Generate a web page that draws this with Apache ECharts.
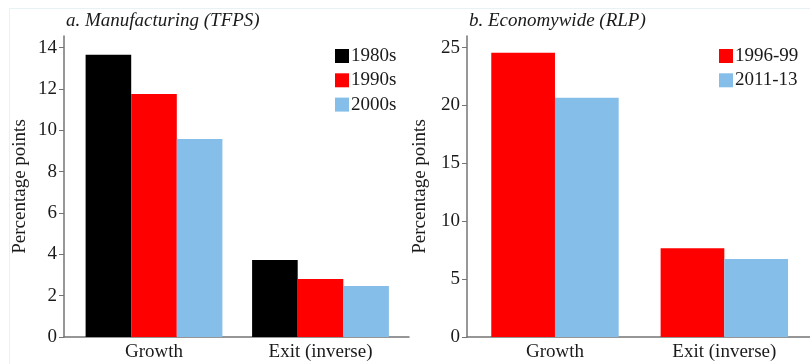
<!DOCTYPE html>
<html>
<head>
<meta charset="utf-8">
<script src="https://cdn.jsdelivr.net/npm/echarts@6/dist/echarts.min.js"></script>
<style>
  html, body { margin: 0; padding: 0; background: #fff; }
  #chart { width: 810px; height: 364px; }
</style>
</head>
<body>
<div id="chart"></div>
<script>
// Categories shared by both panels
const categories = ['Growth', 'Exit (inverse)'];

// Panel a: manufacturing (TFPS), percentage points
const mfgNames = ['1980s', '1990s', '2000s'];
const mfg1980s = [13.65, 3.72];
const mfg1990s = [11.75, 2.80];
const mfg2000s = [9.58, 2.47];
const mfgTicks = [0, 2, 4, 6, 8, 10, 12, 14];

// Panel b: economywide (RLP), percentage points
const ecoNames = ['1996-99', '2011-13'];
const eco199699 = [24.55, 7.66];
const eco201113 = [20.66, 6.74];
const ecoTicks = [0, 5, 10, 15, 20, 25];

const FONT = "'Liberation Serif', 'Times New Roman', serif";
const TXT = '#1a1a1a';
const AXIS = '#747474';
const BLACK = '#000000', RED = '#ff0000', BLUE = '#85bee8';

const mfgMax = 14 * 1.04;
const ecoMax = 25 * 1.04;

function frameY(gridIndex, max, ticks, interval, nameGap) {
  return {
    type: 'value', gridIndex, min: 0, max, interval,
    name: 'Percentage points', nameLocation: 'middle', nameGap,
    nameTextStyle: { fontFamily: FONT, fontSize: 19, color: TXT },
    axisLine: { show: true, lineStyle: { color: AXIS, width: 1.5 } },
    axisTick: { show: true, length: 5, customValues: ticks, lineStyle: { color: AXIS } },
    axisLabel: { customValues: ticks, margin: 7, fontFamily: FONT, fontSize: 19, color: TXT },
    splitLine: { show: false }
  };
}
function frameX(gridIndex) {
  return {
    type: 'value', gridIndex, min: 0, max: 1,
    axisLine: { show: true, onZero: false, lineStyle: { color: AXIS, width: 1.5 } },
    axisTick: { show: false }, axisLabel: { show: false }, splitLine: { show: false }
  };
}
function barX(gridIndex) {
  return {
    type: 'category', gridIndex, data: categories,
    axisLine: { show: false }, axisTick: { show: false },
    axisLabel: { margin: 6, fontFamily: FONT, fontSize: 19, color: TXT }
  };
}
function barY(gridIndex, max) {
  return { type: 'value', gridIndex, min: 0, max, show: false, splitLine: { show: false } };
}
function bar(name, data, color, axisIndex, width) {
  return {
    type: 'bar', name, data, xAxisIndex: axisIndex, yAxisIndex: axisIndex,
    barWidth: width, barGap: '0%', itemStyle: { color }, emphasis: { disabled: true },
    animation: false
  };
}

const legendText = { fontFamily: FONT, fontSize: 19, color: TXT, lineHeight: 19, padding: [0, 0, 0, -3] };

const option = {
  animation: false,
  backgroundColor: '#ffffff',
  graphic: [{
    type: 'rect', left: 7, top: 6, shape: { width: 820, height: 380 },
    style: { fill: 'none', stroke: '#e8f2f4', lineWidth: 1 }, silent: true
  }],
  title: [
    { text: 'a. Manufacturing (TFPS)', left: 66, top: 11, padding: 0,
      textStyle: { fontFamily: FONT, fontSize: 19, fontStyle: 'italic', fontWeight: 'normal', color: TXT } },
    { text: 'b. Economywide (RLP)', left: 469, top: 11, padding: 0,
      textStyle: { fontFamily: FONT, fontSize: 19, fontStyle: 'italic', fontWeight: 'normal', color: TXT } }
  ],
  legend: [
    { data: mfgNames, orient: 'vertical', left: 335, top: 46.5, padding: 0, itemGap: 5.3,
      itemWidth: 14, itemHeight: 14, icon: 'rect', selectedMode: false, textStyle: legendText },
    { data: ecoNames, orient: 'vertical', left: 719, top: 46.5, padding: 0, itemGap: 5.3,
      itemWidth: 14, itemHeight: 14, icon: 'rect', selectedMode: false, textStyle: legendText }
  ],
  grid: [
    { left: 64, top: 36, width: 345, height: 301 },
    { left: 70.75, top: 36, width: 333, height: 301 },
    { left: 467, top: 36, width: 343, height: 301 },
    { left: 470.3, top: 36, width: 338.7, height: 301 }
  ],
  xAxis: [frameX(0), barX(1), frameX(2), barX(3)],
  yAxis: [
    frameY(0, mfgMax, mfgTicks, 2, 34),
    barY(1, mfgMax),
    frameY(2, ecoMax, ecoTicks, 5, 37),
    barY(3, ecoMax)
  ],
  series: [
    bar('1980s', mfg1980s, BLACK, 1, 45.6),
    bar('1990s', mfg1990s, RED, 1, 45.6),
    bar('2000s', mfg2000s, BLUE, 1, 45.6),
    bar('1996-99', eco199699, RED, 3, 63.7),
    bar('2011-13', eco201113, BLUE, 3, 63.7)
  ]
};

const chart = echarts.init(document.getElementById('chart'), null, { renderer: 'canvas' });
chart.setOption(option);
</script>
</body>
</html>
